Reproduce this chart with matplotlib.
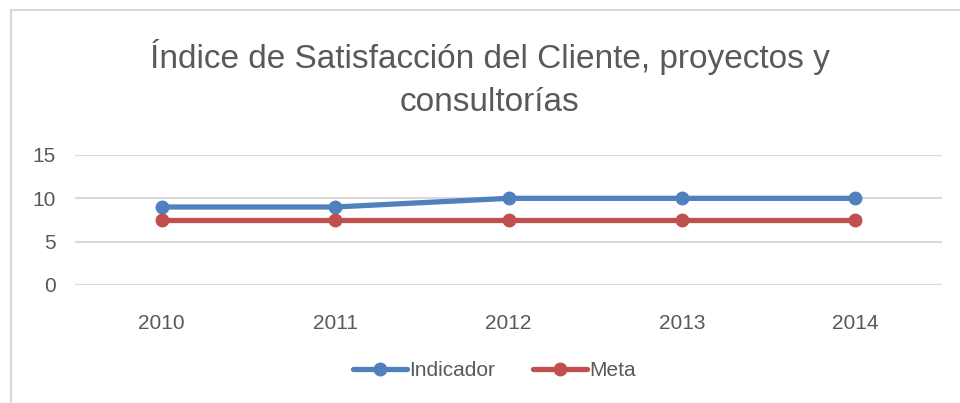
import matplotlib.pyplot as plt
from matplotlib.patches import Rectangle

years = ['2010', '2011', '2012', '2013', '2014']
indicador = [9, 9, 10, 10, 10]
meta = [7.5, 7.5, 7.5, 7.5, 7.5]

blue = '#4F81BD'
red = '#C0504D'
gray = '#595959'

plt.rcParams['font.family'] = ['Liberation Sans', 'DejaVu Sans']

fig = plt.figure(figsize=(9.6, 4.03), dpi=100)
# chart frame (only left/top visible in the reference)
fig.patches.append(Rectangle((11 / 960, -0.1), 1.2, 1 - 10 / 403 + 0.1,
                             transform=fig.transFigure, fill=False,
                             edgecolor='#D9D9D9', linewidth=1.5))

ax = fig.add_axes([75 / 960, 118 / 403, 867 / 960, 130 / 403])
x = range(len(years))
ax.plot(x, indicador, color=blue, lw=3.8, marker='o', ms=9, label='Indicador',
        solid_capstyle='round', zorder=3)
ax.plot(x, meta, color=red, lw=3.8, marker='o', ms=9, label='Meta',
        solid_capstyle='round', zorder=3)

ax.set_xlim(-0.5, len(years) - 0.5)
ax.set_ylim(0, 15)
ax.set_yticks([0, 5, 10, 15])
ax.set_xticks(list(x))
ax.set_xticklabels(years)
ax.grid(axis='y', color='#D9D9D9', lw=1.5)
ax.set_axisbelow(True)
for s in ax.spines.values():
    s.set_visible(False)
ax.tick_params(length=0, labelsize=15, colors=gray)
ax.tick_params(axis='x', pad=21)
ax.tick_params(axis='y', pad=14)

fig.text(0.51, 0.806, 'Índice de Satisfacción del Cliente, proyectos y\nconsultorías',
         ha='center', va='center', fontsize=24, color=gray, linespacing=1.5)

leg = fig.legend(loc='center', bbox_to_anchor=(0.515, 0.08), ncol=2, frameon=False,
                 fontsize=15, labelcolor=gray, handlelength=2.6, columnspacing=1.8,
                 handletextpad=0.1)

fig.savefig('out.png', dpi=100)
